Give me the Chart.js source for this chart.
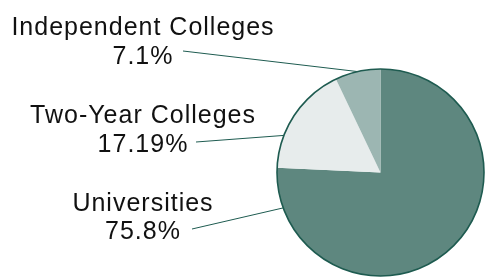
<!DOCTYPE html>
<html>
<head>
<meta charset="utf-8">
<script src="https://cdn.jsdelivr.net/npm/chart.js@4"></script>
<style>
html,body{margin:0;padding:0;background:#fff;}
#wrap{width:486px;height:277px;position:relative;}
</style>
</head>
<body>
<div id="wrap"><canvas id="c" width="486" height="277"></canvas></div>
<script>
const categories = ["Universities", "Two-Year Colleges", "Independent Colleges"];
const values = [75.8, 17.19, 7.1];
const valueLabels = ["75.8%", "17.19%", "7.1%"];
const colors = ["#5e877f", "#e7ecec", "#9cb6b2"];

// label layout (style only): text center x, baseline of each line, leader start, angle on rim (deg clockwise from top)
const labelLayout = [
  {x: 143, y1: 211, y2: 239, lx: 192, ly: 229, ang: 250},
  {x: 143, y1: 123, y2: 152, lx: 196, ly: 142, ang: 291},
  {x: 143, y1: 35,  y2: 64,  lx: 183, ly: 51,  ang: 347.2}
];

const labelPlugin = {
  id: 'labels',
  afterDatasetsDraw(chart) {
    const ctx = chart.ctx;
    const meta = chart.getDatasetMeta(0);
    const arc0 = meta.data[0];
    const cx = arc0.x, cy = arc0.y, r = arc0.outerRadius;
    ctx.save();
    ctx.beginPath();
    ctx.arc(cx, cy, r, 0, Math.PI * 2);
    ctx.strokeStyle = '#1e5b50';
    ctx.lineWidth = 1.6;
    ctx.stroke();
    ctx.font = '25px "Liberation Sans", Arial, sans-serif';
    try { ctx.letterSpacing = '1px'; } catch (e) {}
    ctx.fillStyle = '#111';
    ctx.textAlign = 'center';
    ctx.textBaseline = 'alphabetic';
    categories.forEach((cat, i) => {
      const L = labelLayout[i];
      ctx.fillText(cat, L.x, L.y1);
      ctx.fillText(valueLabels[i], L.x, L.y2);
      const a = L.ang * Math.PI / 180;
      const ex = cx + r * Math.sin(a), ey = cy - r * Math.cos(a);
      ctx.beginPath();
      ctx.moveTo(L.lx, L.ly);
      ctx.lineTo(ex, ey);
      ctx.strokeStyle = '#1e5b50';
      ctx.lineWidth = 1;
      ctx.stroke();
    });
    ctx.restore();
  }
};

new Chart(document.getElementById('c'), {
  type: 'pie',
  data: {
    labels: categories,
    datasets: [{
      data: values,
      backgroundColor: colors,
      borderWidth: 0
    }]
  },
  options: {
    responsive: false,
    animation: false,
    layout: {padding: {left: 277, right: 2, top: 69, bottom: 1}},
    plugins: {legend: {display: false}, tooltip: {enabled: false}}
  },
  plugins: [labelPlugin]
});
</script>
</body>
</html>
